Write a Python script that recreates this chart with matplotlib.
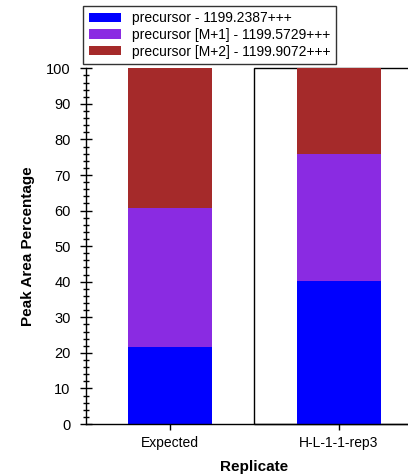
import matplotlib
matplotlib.use("Agg")
import matplotlib.pyplot as plt
from matplotlib.patches import Rectangle, Patch
from matplotlib.ticker import MultipleLocator

plt.rcParams['font.family'] = ['Liberation Sans', 'DejaVu Sans']

categories = ["Expected", "H-L-1-1-rep3"]
series_names = ["precursor - 1199.2387+++",
                "precursor [M+1] - 1199.5729+++",
                "precursor [M+2] - 1199.9072+++"]
precursor = [21.6, 40.1]
precursor_m1 = [39.0, 35.8]
precursor_m2 = [39.4, 24.1]
colors = ["#0000FF", "#8A2BE2", "#A52A2A"]

fig = plt.figure(figsize=(4.08, 4.76), dpi=100)
ax = fig.add_axes([86/408, 52/476, (422.9-86)/408, (424-68.3)/476])

x = list(range(len(categories)))
bottom = [0.0] * len(categories)
for vals, col in zip([precursor, precursor_m1, precursor_m2], colors):
    ax.bar(x, vals, width=0.5, bottom=bottom, color=col, edgecolor='none', zorder=2)
    bottom = [b + v for b, v in zip(bottom, vals)]

ax.set_xlim(-0.5, 1.5)
ax.set_ylim(0, 100)
ax.set_xticks(x)
ax.set_xticklabels(categories, fontsize=10)
ax.yaxis.set_major_locator(MultipleLocator(10))
ax.yaxis.set_minor_locator(MultipleLocator(2))
ax.tick_params(axis='y', which='major', direction='inout', length=8, width=1, labelsize=10.5, pad=7)
ax.tick_params(axis='y', which='minor', direction='inout', length=5, width=1)
ax.tick_params(axis='x', which='major', direction='inout', length=8, width=1, pad=5)
for s in ['top', 'right']:
    ax.spines[s].set_visible(False)
ax.spines['left'].set_linewidth(1)
ax.spines['bottom'].set_linewidth(1)

# selected replicate box
ax.add_patch(Rectangle((0.5, 0), 1.0, 100, fill=False, edgecolor='black', linewidth=1, zorder=1, clip_on=False))

ax.set_ylabel("Peak Area Percentage", fontsize=11, fontweight='bold')
ax.set_xlabel("Replicate", fontsize=11, fontweight='bold')
ax.yaxis.set_label_coords(-0.15, 0.5)
ax.xaxis.set_label_coords(0.5, -0.1)

handles = [Patch(facecolor=c, edgecolor='none') for c in colors]
leg = fig.legend(handles, series_names, loc='upper left', bbox_to_anchor=(83/408, 1 - 5.5/476),
                 fontsize=10, frameon=True, fancybox=False, edgecolor='black',
                 handlelength=2.3, handleheight=0.65, labelspacing=0.2, borderpad=0.4,
                 handletextpad=0.8, borderaxespad=0)
leg.get_frame().set_linewidth(1)

fig.savefig("out.png", dpi=100)
